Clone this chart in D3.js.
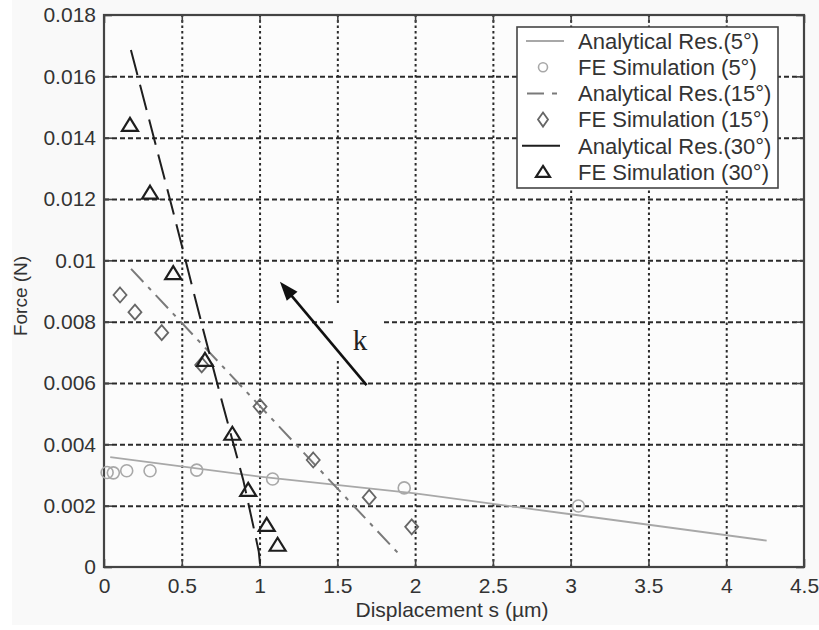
<!DOCTYPE html>
<html><head><meta charset="utf-8">
<script src="https://cdn.jsdelivr.net/npm/d3@7"></script>
<style>body{margin:0;background:#fff}svg{display:block}</style>
</head><body>
<svg id="c" width="819" height="630"></svg>
<script>
// ---- data ----
const xTicks = [0, 0.5, 1, 1.5, 2, 2.5, 3, 3.5, 4, 4.5];
const xTickLabels = ["0", "0.5", "1", "1.5", "2", "2.5", "3", "3.5", "4", "4.5"];
const yTicks = [0, 0.002, 0.004, 0.006, 0.008, 0.01, 0.012, 0.014, 0.016, 0.018];
const yTickLabels = ["0", "0.002", "0.004", "0.006", "0.008", "0.01", "0.012", "0.014", "0.016", "0.018"];
const seriesNames = ["Analytical Res.(5°)", "FE Simulation (5°)", "Analytical Res.(15°)",
                     "FE Simulation (15°)", "Analytical Res.(30°)", "FE Simulation (30°)"];
const xLabel = "Displacement s (µm)";
const yLabel = "Force (N)";

const ana5S = [0.04, 1.0, 2.0, 3.0, 4.26];
const ana5F = [0.00358, 0.00295, 0.0024, 0.00172, 0.00086];
const fe5S = [0.02, 0.06, 0.146, 0.296, 0.596, 1.084, 1.93, 3.05];
const fe5F = [0.00308, 0.00307, 0.00314, 0.00314, 0.00316, 0.00287, 0.00258, 0.00199];

const ana15S = [0.174, 1.902];
const ana15F = [0.00972, 0.00039];
const fe15S = [0.103, 0.199, 0.371, 0.628, 1.003, 1.345, 1.705, 1.978];
const fe15F = [0.00887, 0.00831, 0.00764, 0.00659, 0.00523, 0.00349, 0.00227, 0.00131];

const ana30S = [0.173, 0.445, 0.638, 0.767, 0.895, 0.97, 0.995, 1.003];
const ana30F = [0.01686, 0.01158, 0.00773, 0.00523, 0.00284, 0.0011, 0.0005, 0.0001];
const fe30S = [0.167, 0.296, 0.445, 0.649, 0.825, 0.927, 1.046, 1.116];
const fe30F = [0.01441, 0.0122, 0.00958, 0.00675, 0.00434, 0.00251, 0.00137, 0.00072];

const arrowS = [1.688, 1.131];
const arrowF = [0.00593, 0.0093];
const annotation = "k";
const annotS = 1.645, annotF = 0.00708;

// ---- setup ----
const svg = d3.select("#c");
const L = 104, R = 804, T = 15, B = 567;
const x = d3.scaleLinear().domain([0, 4.5]).range([L, R]);
const y = d3.scaleLinear().domain([0, 0.018]).range([B, T]);
const font = "'Liberation Sans', Arial, Helvetica, sans-serif";

svg.append("rect").attr("x", 0).attr("y", 0).attr("width", 819).attr("height", 630).attr("fill", "#fff");
svg.append("rect").attr("x", 12).attr("y", 0).attr("width", 807).attr("height", 625).attr("fill", "#f9f9f9");
svg.append("rect").attr("x", L).attr("y", T).attr("width", R - L).attr("height", B - T).attr("fill", "#fcfcfc");

// grid
const gridX = xTicks.slice(1, -1), gridY = yTicks.slice(1, -1);
const gx = svg.append("g").attr("transform", `translate(0,${B})`)
  .call(d3.axisBottom(x).tickValues(gridX).tickSize(-(B - T)).tickFormat(""));
gx.select(".domain").remove();
gx.selectAll("line").attr("stroke", "#2a2a2a").attr("stroke-width", 2).attr("stroke-dasharray", "2.5,3");
const gy = svg.append("g").attr("transform", `translate(${L},0)`)
  .call(d3.axisLeft(y).tickValues(gridY).tickSize(-(R - L)).tickFormat(""));
gy.select(".domain").remove();
gy.selectAll("line").attr("stroke", "#2a2a2a").attr("stroke-width", 2).attr("stroke-dasharray", "5,3");

// annotation background box (covers grid)
svg.append("rect").attr("x", x(1.485)).attr("y", y(0.00854))
  .attr("width", x(1.793) - x(1.485)).attr("height", y(0.00675) - y(0.00854)).attr("fill", "#fcfcfc");

// axes
const styleAxis = g => {
  g.select(".domain").remove();
  g.selectAll("line").attr("stroke", "#444").attr("stroke-width", 1.6);
  g.selectAll("text").attr("font-family", font).attr("font-size", 21).attr("fill", "#333");
};
svg.append("g").attr("transform", `translate(0,${B})`)
  .call(d3.axisBottom(x).tickValues(xTicks).tickSizeInner(-8).tickSizeOuter(0).tickPadding(11)
    .tickFormat((d, i) => xTickLabels[i])).call(styleAxis);
svg.append("g").attr("transform", `translate(${L},0)`)
  .call(d3.axisLeft(y).tickValues(yTicks).tickSizeInner(-8).tickSizeOuter(0).tickPadding(8)
    .tickFormat((d, i) => yTickLabels[i])).call(styleAxis);
svg.append("g").attr("transform", `translate(0,${T})`)
  .call(d3.axisTop(x).tickValues(xTicks).tickSizeInner(-8).tickSizeOuter(0).tickFormat("")).call(styleAxis);
svg.append("g").attr("transform", `translate(${R},0)`)
  .call(d3.axisRight(y).tickValues(yTicks).tickSizeInner(-8).tickSizeOuter(0).tickFormat("")).call(styleAxis);
svg.append("rect").attr("x", L).attr("y", T).attr("width", R - L).attr("height", B - T)
  .attr("fill", "none").attr("stroke", "#444").attr("stroke-width", 2.2);

// axis labels
svg.append("text").attr("x", 452).attr("y", 617).attr("text-anchor", "middle")
  .attr("font-family", font).attr("font-size", 21).attr("fill", "#333").text(xLabel);
svg.append("text").attr("transform", "translate(27,296) rotate(-90)").attr("text-anchor", "middle")
  .attr("font-family", font).attr("font-size", 19).attr("fill", "#333").text(yLabel);

// series
const zip = (S, F) => S.map((s, i) => [s, F[i]]);
const line = d3.line().x(d => x(d[0])).y(d => y(d[1]));
const c5 = "#a8a8a8", c15l = "#7a7a7a", c15m = "#666", c30 = "#1e1e1e";

svg.append("path").datum(zip(ana5S, ana5F)).attr("d", line)
  .attr("fill", "none").attr("stroke", c5).attr("stroke-width", 1.8);
svg.append("path").datum(zip(ana15S, ana15F)).attr("d", line)
  .attr("fill", "none").attr("stroke", c15l).attr("stroke-width", 2).attr("stroke-dasharray", "18,7,4,7");
svg.append("path").datum(zip(ana30S, ana30F)).attr("d", line)
  .attr("fill", "none").attr("stroke", c30).attr("stroke-width", 2).attr("stroke-dasharray", "26,10");

const diamond = (hw, hh) => `M0,${-hh}L${hw},0L0,${hh}L${-hw},0Z`;
const tri = (hw, h) => `M0,${-h * 0.55}L${hw},${h * 0.45}L${-hw},${h * 0.45}Z`;

svg.append("g").selectAll("circle").data(zip(fe5S, fe5F)).join("circle")
  .attr("cx", d => x(d[0])).attr("cy", d => y(d[1])).attr("r", 6)
  .attr("fill", "none").attr("stroke", c5).attr("stroke-width", 1.6);
svg.append("g").selectAll("path").data(zip(fe15S, fe15F)).join("path")
  .attr("transform", d => `translate(${x(d[0])},${y(d[1])})`).attr("d", diamond(6.5, 7.5))
  .attr("fill", "none").attr("stroke", c15m).attr("stroke-width", 1.8);
svg.append("g").selectAll("path").data(zip(fe30S, fe30F)).join("path")
  .attr("transform", d => `translate(${x(d[0])},${y(d[1])})`).attr("d", tri(8, 13))
  .attr("fill", "none").attr("stroke", c30).attr("stroke-width", 2.2);

// arrow
const ax0 = x(arrowS[0]), ay0 = y(arrowF[0]), ax1 = x(arrowS[1]), ay1 = y(arrowF[1]);
const ang = Math.atan2(ay1 - ay0, ax1 - ax0);
const hl = 19, hw = 7;
const bx = ax1 - hl * Math.cos(ang), by = ay1 - hl * Math.sin(ang);
svg.append("line").attr("x1", ax0).attr("y1", ay0).attr("x2", bx + 2 * Math.cos(ang)).attr("y2", by + 2 * Math.sin(ang))
  .attr("stroke", "#111").attr("stroke-width", 2.6);
svg.append("path").attr("d",
  `M${ax1},${ay1}L${bx + hw * Math.sin(ang)},${by - hw * Math.cos(ang)}L${bx - hw * Math.sin(ang)},${by + hw * Math.cos(ang)}Z`)
  .attr("fill", "#111");
svg.append("text").attr("x", x(annotS)).attr("y", y(annotF)).attr("text-anchor", "middle")
  .attr("font-family", "'Liberation Serif', 'Times New Roman', serif").attr("font-size", 29).attr("fill", "#222")
  .text(annotation);

// legend
const lg = svg.append("g");
lg.append("rect").attr("x", 517).attr("y", 27).attr("width", 261).attr("height", 161)
  .attr("fill", "#fff").attr("stroke", "#444").attr("stroke-width", 1.6);
const rowY = i => 41 + i * 26.2;
seriesNames.forEach((name, i) => {
  lg.append("text").attr("x", 578).attr("y", rowY(i)).attr("dy", "0.35em")
    .attr("font-family", font).attr("font-size", 22).attr("fill", "#333").text(name);
});
lg.append("line").attr("x1", 526).attr("x2", 564).attr("y1", rowY(0)).attr("y2", rowY(0))
  .attr("stroke", c5).attr("stroke-width", 1.8);
lg.append("circle").attr("cx", 543).attr("cy", rowY(1)).attr("r", 4.5)
  .attr("fill", "none").attr("stroke", c5).attr("stroke-width", 1.6);
lg.append("line").attr("x1", 527).attr("x2", 560).attr("y1", rowY(2)).attr("y2", rowY(2))
  .attr("stroke", c15l).attr("stroke-width", 2).attr("stroke-dasharray", "17,8,5,8");
lg.append("path").attr("transform", `translate(543,${rowY(3)})`).attr("d", diamond(5, 7))
  .attr("fill", "none").attr("stroke", c15m).attr("stroke-width", 1.8);
lg.append("line").attr("x1", 522).attr("x2", 560).attr("y1", rowY(4)).attr("y2", rowY(4))
  .attr("stroke", c30).attr("stroke-width", 2);
lg.append("path").attr("transform", `translate(543,${rowY(5)})`).attr("d", tri(7, 11))
  .attr("fill", "none").attr("stroke", c30).attr("stroke-width", 2.2);
</script>
</body></html>
